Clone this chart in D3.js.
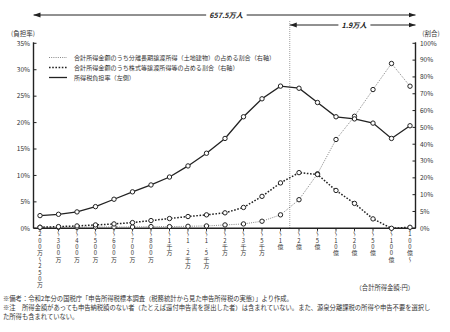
<!DOCTYPE html>
<html><head><meta charset="utf-8">
<script src="https://cdn.jsdelivr.net/npm/d3@7"></script>
<style>
html,body{margin:0;padding:0;background:#fff;}
svg{display:block;font-family:"Noto Sans CJK JP","Noto Sans",sans-serif;}
.vt{writing-mode:vertical-rl;text-orientation:upright;}
</style></head>
<body>
<svg id="c" width="450" height="332"></svg>
<script>
const categories = ["200万～250万","～300万","～400万","～500万","～600万","～700万","～800万","～1千万","～1.2千万","～1.5千万","～2千万","～3千万","～5千万","～1億","～2億","～5億","～10億","～20億","～50億","～100億","100億～"];
const taxRate = [2.4, 2.65, 3.1, 4.1, 5.5, 6.9, 8.2, 9.7, 11.8, 14.2, 17.0, 21.1, 24.5, 26.9, 26.5, 23.8, 21.1, 20.7, 19.9, 17.0, 19.4];
const stockShare = [0.3, 0.5, 0.7, 1.0, 1.3, 1.7, 2.3, 2.9, 3.5, 4.0, 4.6, 6.2, 9.5, 17.0, 23.1, 22.0, 12.5, 7.4, 2.8, 0.0, 0.3];
const landShare = [0.3, 0.3, 0.3, 0.4, 0.4, 0.4, 0.5, 0.5, 0.6, 0.7, 1.0, 1.3, 2.1, 4.0, 8.5, 22.4, 42.8, 56.6, 72.5, 88.0, 74.5];
const leftTicks = [0,5,10,15,20,25,30,35];
const rightTicks = [0,5,10,20,30,40,50,60,70,80,90,100];
const legendLabels = ["合計所得金額のうち分離長期譲渡所得（土地建物）の占める割合（右軸）","合計所得金額のうち株式等譲渡所得等の占める割合（右軸）","所得税負担率（左側）"];
const totalLabel = "657.5万人";
const topLabel = "1.9万人";
const splitAfter = "～1億";
const notes = ["※備考：令和2年分の国税庁「申告所得税標本調査（税務統計から見た申告所得税の実態）」より作成。",
"※注　所得金額があっても申告納税額のない者（たとえば還付申告書を提出した者）は含まれていない。また、源泉分離課税の所得や申告不要を選択し",
"た所得も含まれていない。"];

const svg = d3.select("#c");
const ink = "#222";
const x0 = 33.5, x1 = 415.5, yb = 228.3, yt = 43.3;
const x = d3.scalePoint().domain(categories).range([40, 410]);
const yL = d3.scaleLinear().domain([0,35]).range([yb, yt]);
const step = (yb-yt)/11;
const yR = d3.scaleLinear().domain([0,10,100]).range([yb, yb-2*step, yt]);

// defs arrow
const defs = svg.append("defs");
["s","e"].forEach(k=>{
  defs.append("marker").attr("id","a"+k).attr("viewBox","0 0 10 10").attr("refX", 10).attr("refY",5)
   .attr("markerWidth",7).attr("markerHeight",7).attr("orient", "auto-start-reverse")
   .append("path").attr("d","M0,1.5L10,5L0,8.5Z").attr("fill",ink);
});

// top arrows
svg.append("line").attr("x1",x0).attr("x2",x1).attr("y1",15).attr("y2",15).attr("stroke",ink).attr("stroke-width",1)
  .attr("marker-start","url(#as)").attr("marker-end","url(#ae)");
const xs = (x(splitAfter) + x(categories[categories.indexOf(splitAfter)+1]))/2;
svg.append("line").attr("x1",xs).attr("x2",x1).attr("y1",25).attr("y2",25).attr("stroke",ink).attr("stroke-width",1)
  .attr("marker-start","url(#as)").attr("marker-end","url(#ae)");
function lbl(t, cx, cy){
  const g = svg.append("g");
  const tx = g.append("text").attr("x",cx).attr("y",cy+2.5).attr("text-anchor","middle").attr("font-size",7.2)
    .attr("font-style","italic").attr("font-weight","bold").attr("fill",ink).text(t);
  const bb = tx.node().getBBox();
  g.insert("rect","text").attr("x",bb.x-3).attr("y",cy-4).attr("width",bb.width+6).attr("height",8).attr("fill","#fff");
}
lbl(totalLabel, 226, 15);
lbl(topLabel, 354, 25);

// vertical split line
svg.append("line").attr("x1",xs).attr("x2",xs).attr("y1",21).attr("y2",yb).attr("stroke","#777").attr("stroke-width",0.7).attr("stroke-dasharray","1,1");

// axes
const axisStroke = 1.4;
svg.append("line").attr("x1",x0).attr("x2",x0).attr("y1",yt-1).attr("y2",yb).attr("stroke",ink).attr("stroke-width",axisStroke);
svg.append("line").attr("x1",x1).attr("x2",x1).attr("y1",yt-1).attr("y2",yb).attr("stroke",ink).attr("stroke-width",axisStroke);
svg.append("line").attr("x1",x0).attr("x2",x1).attr("y1",yb).attr("y2",yb).attr("stroke",ink).attr("stroke-width",axisStroke);

const gl = svg.append("g");
leftTicks.forEach(v=>{
  gl.append("line").attr("x1",x0).attr("x2",x0+3).attr("y1",yL(v)).attr("y2",yL(v)).attr("stroke",ink).attr("stroke-width",1);
  gl.append("text").attr("x",30).attr("y",yL(v)+2.3).attr("text-anchor","end").attr("font-size",6.5).attr("fill","#333").text(v+"%");
});
rightTicks.forEach(v=>{
  gl.append("line").attr("x1",x1-3).attr("x2",x1).attr("y1",yR(v)).attr("y2",yR(v)).attr("stroke",ink).attr("stroke-width",1);
  gl.append("text").attr("x",420).attr("y",yR(v)+2.3).attr("text-anchor","start").attr("font-size",6.5).attr("fill","#333").text(v+"%");
});
svg.append("text").attr("x",23).attr("y",36).attr("text-anchor","middle").attr("font-size",6.5).attr("fill","#333").text("(負担率)");
svg.append("text").attr("x",431).attr("y",36).attr("text-anchor","middle").attr("font-size",6.5).attr("fill","#333").text("(割合)");

// x ticks and vertical labels
categories.forEach(c=>{
  const cx = x(c);
  svg.append("line").attr("x1",cx).attr("x2",cx).attr("y1",yb).attr("y2",yb+2.5).attr("stroke",ink).attr("stroke-width",1);
  svg.append("text").attr("class","vt").attr("x",cx).attr("y",231).attr("font-size",5.9)
    .attr("letter-spacing",0.5).attr("fill","#333").text(c);
});
svg.append("text").attr("x",414).attr("y",290).attr("text-anchor","end").attr("font-size",6.3).attr("fill","#333").text("（合計所得金額:円）");

// series
const series = [
  {vals: landShare, y: yR, stroke:"#666", w:0.8, dash:"1,1.2"},
  {vals: stockShare, y: yR, stroke:ink, w:1.5, dash:"1.6,1.6"},
  {vals: taxRate, y: yL, stroke:ink, w:1.3, dash:null}
];
series.forEach(s=>{
  const line = d3.line().x((d,i)=>x(categories[i])).y(d=>s.y(d));
  svg.append("path").attr("d",line(s.vals)).attr("fill","none").attr("stroke",s.stroke).attr("stroke-width",s.w)
    .attr("stroke-dasharray",s.dash);
});
series.forEach(s=>{
  svg.append("g").selectAll("circle").data(s.vals).join("circle")
    .attr("cx",(d,i)=>x(categories[i])).attr("cy",d=>s.y(d)).attr("r",2.2)
    .attr("fill","#fff").attr("stroke",ink).attr("stroke-width",1);
});

// legend
const lg = svg.append("g");
legendLabels.forEach((t,i)=>{
  const s = series[i];
  const ly = 57.5 + i*10;
  lg.append("line").attr("x1",49).attr("x2",67).attr("y1",ly).attr("y2",ly).attr("stroke",s.stroke).attr("stroke-width",s.w).attr("stroke-dasharray",s.dash);
  lg.append("text").attr("x",74).attr("y",ly+2.2).attr("font-size",6.1).attr("fill","#333").text(t);
});

// notes
notes.forEach((t,i)=>{
  svg.append("text").attr("x",3).attr("y",301+i*9).attr("font-size",6.3).attr("fill","#333").text(t);
});
</script>
</body></html>
